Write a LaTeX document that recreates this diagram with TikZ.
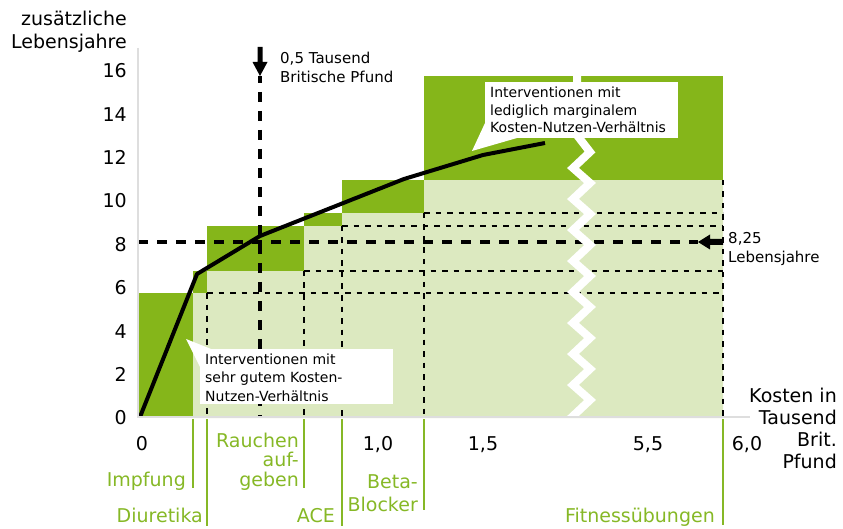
\documentclass[tikz,border=0pt]{standalone}
\usepackage{fontspec}
\setmainfont{DejaVu Sans}
\definecolor{dkgreen}{RGB}{133,182,26}
\definecolor{ltgreen}{RGB}{220,233,192}
\definecolor{axgray}{RGB}{222,222,222}
\definecolor{grtext}{RGB}{134,184,38}
\begin{document}
\begin{tikzpicture}[x=1pt,y=-1pt,
  tick/.style={font=\fontsize{19}{22}\selectfont, inner sep=0pt},
  axlabel/.style={font=\fontsize{19}{23}\selectfont, inner sep=0pt, align=right, anchor=base east},
  small/.style={font=\fontsize{15}{19}\selectfont, inner sep=0pt, align=left, anchor=base west},
  callouttext/.style={font=\fontsize{14}{17.5}\selectfont, inner sep=0pt, align=left, anchor=base west},
  grlabel/.style={text=grtext, inner sep=0pt, align=right, anchor=base east},
  thindash/.style={black, line width=1.8pt, dash pattern=on 5.5pt off 6pt},
  thickdash/.style={black, line width=3.3pt, dash pattern=on 10pt off 9pt},
  grline/.style={grtext, line width=1.3pt},
  axline/.style={axgray, line width=2pt},
  bubble/.style={fill=white},
]
\useasboundingbox (0,0) rectangle (843,529);
% light green region
\fill[ltgreen] (193,418) -- (193,293) -- (207,293) -- (207,271) -- (304,271) -- (304,226) -- (342,226) -- (342,213) -- (424,213) -- (424,180) -- (723,180) -- (723,418) -- cycle;
% dark green boxes
\fill[dkgreen] (139,293) rectangle (193,418);
\fill[dkgreen] (193,271) rectangle (207,293);
\fill[dkgreen] (207,226) rectangle (304,271);
\fill[dkgreen] (304,213) rectangle (342,226);
\fill[dkgreen] (342,180) rectangle (424,213);
\fill[dkgreen] (424,76) rectangle (723,180);
% thin dashed grid
\draw[thindash] (207,293) -- (723,293);
\draw[thindash] (304,271) -- (723,271);
\draw[thindash] (342,226) -- (723,226);
\draw[thindash] (424,213) -- (723,213);
\draw[thindash] (207,293) -- (207,418);
\draw[thindash] (304,271) -- (304,418);
\draw[thindash] (342,226) -- (342,418);
\draw[thindash] (424,213) -- (424,418);
\draw[thindash] (723,180) -- (723,418);
% thick dashed guides
\draw[thickdash] (138,242) -- (698,242);
\draw[thickdash, dash phase=3pt] (260,76) -- (260,418);
% arrows
\fill (257.5,47) -- (262.5,47) -- (262.5,62) -- (267.5,62) -- (260,76) -- (252.5,62) -- (257.5,62) -- cycle;
\fill (723,239) -- (710,239) -- (710,234.5) -- (698,242) -- (710,249.5) -- (710,245) -- (723,245) -- cycle;
% cost-effectiveness curve
\coordinate (c0) at (140,417);
\coordinate (c1) at (197,274);
\coordinate (c2) at (260,236);
\coordinate (c3) at (404,179);
\coordinate (c4) at (483,155);
\coordinate (c5) at (545,143);
\draw[line width=4pt, line join=round] (c0) -- (c1) -- (c2) -- (c3) -- (c4) -- (c5);
% zigzag break
\begin{scope}
\clip (520,76) rectangle (650,416);
\draw[white, line width=8pt, miter limit=10]
  (577,60) -- (577,84) -- (573,130) -- (590,152) -- (573,168) -- (590,183) -- (573,199) -- (590,214) -- (573,230)
  -- (590,245) -- (573,261) -- (590,276) -- (573,292) -- (590,307) -- (573,323) -- (590,338) -- (573,354)
  -- (590,369) -- (573,385) -- (590,400) -- (573,416) -- (590,431);
\end{scope}
% axes
\draw[axline] (138,48) -- (138,418);
\draw[axline] (138,417) -- (750,417);
% callout bubbles
\fill[bubble] (485,82) rectangle (678,138);
\fill[bubble] (485,123) -- (517,138) -- (472,151) -- cycle;
\fill[bubble] (200,349) rectangle (393,404);
\fill[bubble] (200,367) -- (211,349) -- (186,339) -- cycle;
\node[callouttext] (ctop) at (490,133) {Interventionen mit\\lediglich marginalem\\Kosten-Nutzen-Verhältnis};
\node[callouttext, font=\fontsize{14}{18.5}\selectfont] (cbot) at (205,401) {Interventionen mit\\sehr gutem Kosten-\\Nutzen-Verhältnis};
% green separators
\draw[grline] (193,419) -- (193,488);
\draw[grline] (207,419) -- (207,526);
\draw[grline] (304,419) -- (304,488);
\draw[grline] (342,419) -- (342,526);
\draw[grline] (424,419) -- (424,510);
\draw[grline] (723,419) -- (723,525);
% axis titles
\node[axlabel] (ytitle) at (127,49) {zusätzliche\\Lebensjahre};
\node[axlabel, font=\fontsize{19}{22}\selectfont] (xtitle) at (837,468) {Kosten in\\Tausend\\Brit.\\Pfund};
% y ticks
\foreach \v/\n in {16/y16,14/y14,12/y12,10/y10,8/y8,6/y6,4/y4,2/y2,0/y0}
  \node[tick, anchor=east] (\n) at (127,{418-21.7*\v}) {\v};
% x ticks
\node[tick, anchor=base] (x0) at (142,450) {0};
\node[tick, anchor=base] (x10) at (378,450) {1,0};
\node[tick, anchor=base] (x15) at (483,450) {1,5};
\node[tick, anchor=base] (x55) at (648,450) {5,5};
\node[tick, anchor=base] (x60) at (747,450) {6,0};
% annotations
\node[small] (half) at (280,83) {0,5 Tausend\\Britische Pfund};
\node[small] (years) at (728,262) {8,25\\Lebensjahre};
% intervention labels
\node[grlabel, font=\fontsize{19}{20}\selectfont] (impf) at (186,486) {Impfung};
\node[grlabel, font=\fontsize{19}{20}\selectfont] (diur) at (203,522) {Diuretika};
\node[grlabel, font=\fontsize{19}{19.5}\selectfont] (rauch) at (299,486) {Rauchen\\auf-\\geben};
\node[grlabel, font=\fontsize{19}{20}\selectfont] (ace) at (335,522) {ACE};
\node[grlabel, font=\fontsize{19}{23}\selectfont] (beta) at (418,511) {Beta-\\Blocker};
\node[grlabel, font=\fontsize{19}{20}\selectfont] (fit) at (715,522) {Fitnessübungen};
\end{tikzpicture}
\end{document}
